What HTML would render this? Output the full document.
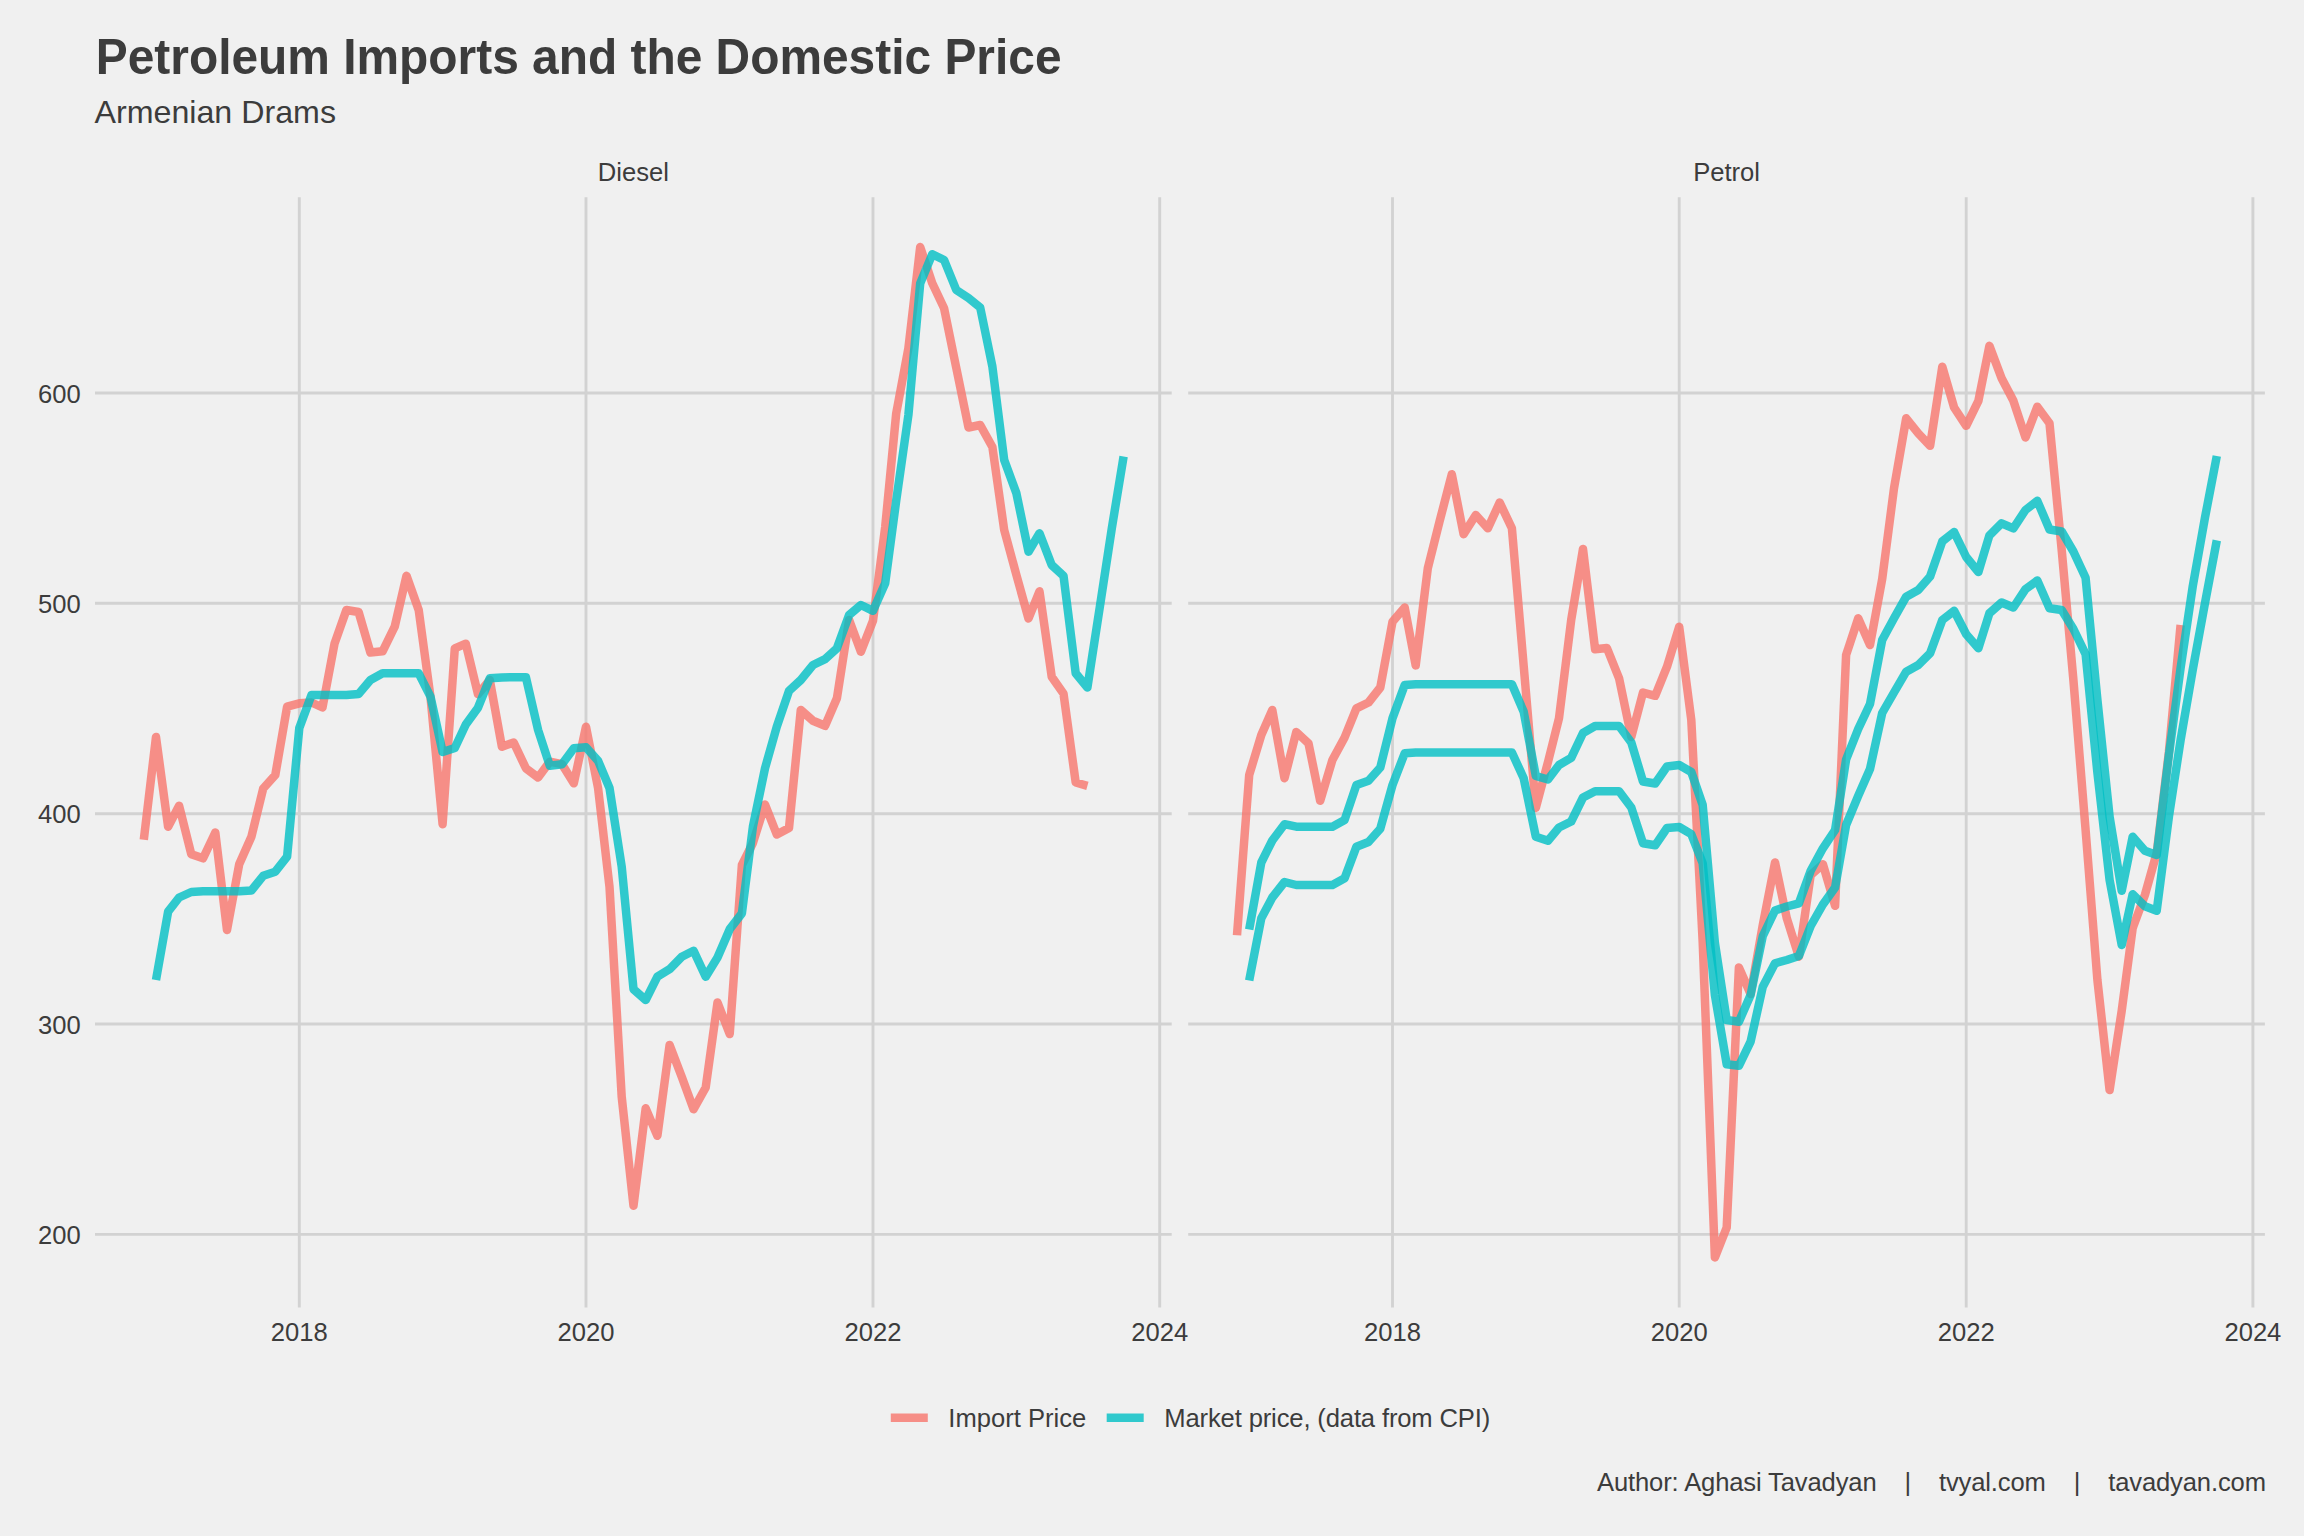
<!DOCTYPE html>
<html><head><meta charset="utf-8"><title>Petroleum Imports and the Domestic Price</title>
<style>html,body{margin:0;padding:0;background:#F0F0F0;}body{width:2304px;height:1536px;overflow:hidden;font-family:"Liberation Sans",sans-serif;}svg{display:block;}text{font-family:"Liberation Sans",sans-serif;fill:#3C3C3C;}</style></head><body>
<svg width="2304" height="1536" viewBox="0 0 2304 1536">
<rect x="0" y="0" width="2304" height="1536" fill="#F0F0F0"/>
<text x="95.8" y="73.8" font-size="48" font-weight="bold" transform="translate(95 73.8) scale(0.9978 1.06) translate(-95 -73.8)">Petroleum Imports and the Domestic Price</text>
<text x="94.5" y="123.2" font-size="32.2">Armenian Drams</text>
<text x="633.4" y="181" font-size="25.6" text-anchor="middle">Diesel</text>
<text x="1726.6" y="181" font-size="25.6" text-anchor="middle">Petrol</text>
<g stroke="#D2D2D2" stroke-width="2.9" fill="none">
<line x1="95.0" y1="393.0" x2="1171.7" y2="393.0"/>
<line x1="95.0" y1="603.3" x2="1171.7" y2="603.3"/>
<line x1="95.0" y1="813.7" x2="1171.7" y2="813.7"/>
<line x1="95.0" y1="1024.0" x2="1171.7" y2="1024.0"/>
<line x1="95.0" y1="1234.4" x2="1171.7" y2="1234.4"/>
<line x1="299.3" y1="197.3" x2="299.3" y2="1307.5"/>
<line x1="586.0" y1="197.3" x2="586.0" y2="1307.5"/>
<line x1="873.0" y1="197.3" x2="873.0" y2="1307.5"/>
<line x1="1159.7" y1="197.3" x2="1159.7" y2="1307.5"/>
<line x1="1188.2" y1="393.0" x2="2264.9" y2="393.0"/>
<line x1="1188.2" y1="603.3" x2="2264.9" y2="603.3"/>
<line x1="1188.2" y1="813.7" x2="2264.9" y2="813.7"/>
<line x1="1188.2" y1="1024.0" x2="2264.9" y2="1024.0"/>
<line x1="1188.2" y1="1234.4" x2="2264.9" y2="1234.4"/>
<line x1="1392.5" y1="197.3" x2="1392.5" y2="1307.5"/>
<line x1="1679.2" y1="197.3" x2="1679.2" y2="1307.5"/>
<line x1="1966.2" y1="197.3" x2="1966.2" y2="1307.5"/>
<line x1="2252.9" y1="197.3" x2="2252.9" y2="1307.5"/>
</g>
<text x="80.8" y="402.6" font-size="25.6" text-anchor="end">600</text>
<text x="80.8" y="612.9" font-size="25.6" text-anchor="end">500</text>
<text x="80.8" y="823.3" font-size="25.6" text-anchor="end">400</text>
<text x="80.8" y="1033.6" font-size="25.6" text-anchor="end">300</text>
<text x="80.8" y="1244.0" font-size="25.6" text-anchor="end">200</text>
<text x="299.3" y="1341.3" font-size="25.6" text-anchor="middle">2018</text>
<text x="586.0" y="1341.3" font-size="25.6" text-anchor="middle">2020</text>
<text x="873.0" y="1341.3" font-size="25.6" text-anchor="middle">2022</text>
<text x="1159.7" y="1341.3" font-size="25.6" text-anchor="middle">2024</text>
<text x="1392.5" y="1341.3" font-size="25.6" text-anchor="middle">2018</text>
<text x="1679.2" y="1341.3" font-size="25.6" text-anchor="middle">2020</text>
<text x="1966.2" y="1341.3" font-size="25.6" text-anchor="middle">2022</text>
<text x="2252.9" y="1341.3" font-size="25.6" text-anchor="middle">2024</text>
<polyline points="143.8,839.7 156.0,737.0 168.1,826.7 179.1,805.8 191.3,854.2 203.1,858.3 215.3,832.5 227.0,930.0 239.2,864.2 251.4,836.7 263.2,788.5 275.3,775.0 287.1,706.7 299.3,703.3 311.5,702.5 322.5,707.5 334.6,643.3 346.4,610.0 358.6,612.0 370.4,652.5 382.6,651.3 394.7,626.7 406.5,575.8 418.7,610.0 430.5,697.0 442.6,824.2 454.8,648.3 465.8,643.7 478.0,694.2 489.8,680.0 501.9,746.7 513.7,742.5 525.9,768.3 538.1,777.5 549.8,761.7 562.0,764.2 573.8,783.3 586.0,726.7 598.1,788.3 609.5,886.7 621.7,1096.7 633.5,1205.8 645.7,1108.3 657.4,1135.8 669.6,1045.0 681.8,1077.0 693.6,1109.2 705.7,1087.5 717.5,1002.5 729.7,1034.0 741.9,865.0 752.9,843.0 765.0,804.5 776.8,834.5 789.0,828.0 800.8,710.0 813.0,720.8 825.1,725.8 836.9,698.3 849.1,620.0 860.9,651.7 873.0,620.8 885.2,527.0 896.2,413.5 908.4,348.3 920.2,247.0 932.3,283.3 944.1,308.3 956.3,368.0 968.5,427.5 980.2,425.0 992.4,447.0 1004.2,530.0 1016.4,575.0 1028.5,618.5 1039.5,591.3 1051.7,676.7 1063.5,693.6 1075.7,782.5 1087.4,785.8" fill="none" stroke="#F8766D" stroke-opacity="0.8" stroke-width="8.5" stroke-linejoin="round" stroke-linecap="butt"/>
<polyline points="156.0,980.0 168.1,911.7 179.1,897.5 191.3,892.0 203.1,891.3 215.3,891.3 227.0,891.3 239.2,891.3 251.4,890.5 263.2,875.8 275.3,871.7 287.1,856.7 299.3,728.0 311.5,695.0 322.5,695.0 334.6,695.0 346.4,695.0 358.6,694.0 370.4,680.0 382.6,673.3 394.7,673.3 406.5,673.3 418.7,673.3 430.5,696.7 442.6,752.0 454.8,748.0 465.8,724.5 478.0,707.7 489.8,678.3 501.9,677.5 513.7,677.2 525.9,677.2 538.1,730.0 549.8,765.8 562.0,764.2 573.8,748.3 586.0,747.2 598.1,760.8 609.5,788.0 621.7,866.7 633.5,989.2 645.7,1000.0 657.4,976.7 669.6,969.2 681.8,956.7 693.6,950.8 705.7,976.7 717.5,957.5 729.7,929.2 741.9,913.3 752.9,826.7 765.0,768.3 776.8,726.7 789.0,690.8 800.8,680.0 813.0,665.0 825.1,659.2 836.9,648.3 849.1,615.0 860.9,605.0 873.0,610.8 885.2,583.3 896.2,500.8 908.4,415.0 920.2,283.3 932.3,254.2 944.1,260.0 956.3,290.0 968.5,298.0 980.2,307.5 992.4,366.7 1004.2,460.0 1016.4,493.3 1028.5,551.7 1039.5,533.3 1051.7,565.0 1063.5,575.8 1075.7,673.3 1087.4,687.5 1099.6,608.3 1111.8,528.3 1123.6,456.5" fill="none" stroke="#00BFC4" stroke-opacity="0.8" stroke-width="8.5" stroke-linejoin="round" stroke-linecap="butt"/>
<polyline points="1237.0,935.3 1249.2,775.0 1261.3,735.0 1272.3,710.0 1284.5,778.3 1296.3,732.0 1308.5,743.3 1320.2,800.8 1332.4,760.0 1344.6,737.5 1356.4,708.3 1368.5,702.5 1380.3,687.5 1392.5,621.7 1404.7,607.5 1415.7,665.4 1427.8,568.3 1439.6,521.3 1451.8,474.2 1463.6,534.2 1475.8,515.0 1487.9,528.3 1499.7,502.5 1511.9,528.3 1523.7,666.0 1535.8,808.0 1548.0,762.0 1559.0,718.3 1571.2,620.0 1583.0,549.0 1595.1,649.2 1606.9,648.0 1619.1,678.3 1631.3,737.0 1643.0,692.5 1655.2,695.8 1667.0,666.7 1679.2,626.7 1691.3,720.0 1702.7,942.0 1714.9,1257.5 1726.7,1227.5 1738.9,967.5 1750.6,994.0 1762.8,925.0 1775.0,862.5 1786.8,918.3 1798.9,956.7 1810.7,875.0 1822.9,864.2 1835.1,905.8 1846.1,655.0 1858.2,618.3 1870.0,645.0 1882.2,579.0 1894.0,488.3 1906.2,418.3 1918.3,433.3 1930.1,445.8 1942.3,366.7 1954.1,407.5 1966.2,425.8 1978.4,400.8 1989.4,345.8 2001.6,378.3 2013.4,400.8 2025.5,437.5 2037.3,406.7 2049.5,423.3 2061.7,550.0 2073.4,680.0 2085.6,830.0 2097.4,980.0 2109.6,1090.0 2121.7,1010.8 2132.7,928.0 2144.9,895.0 2156.7,853.0 2168.9,752.0 2180.6,625.0" fill="none" stroke="#F8766D" stroke-opacity="0.8" stroke-width="8.5" stroke-linejoin="round" stroke-linecap="butt"/>
<polyline points="1249.2,929.6 1261.3,862.5 1272.3,840.5 1284.5,824.2 1296.3,826.7 1308.5,826.7 1320.2,826.7 1332.4,826.7 1344.6,820.0 1356.4,785.0 1368.5,780.8 1380.3,767.5 1392.5,718.3 1404.7,685.0 1415.7,684.3 1427.8,684.3 1439.6,684.3 1451.8,684.3 1463.6,684.3 1475.8,684.3 1487.9,684.3 1499.7,684.3 1511.9,684.3 1523.7,711.7 1535.8,776.0 1548.0,779.5 1559.0,765.0 1571.2,757.8 1583.0,733.0 1595.1,726.0 1606.9,726.0 1619.1,726.0 1631.3,742.5 1643.0,781.5 1655.2,783.5 1667.0,766.5 1679.2,765.0 1691.3,772.0 1702.7,805.0 1714.9,943.0 1726.7,1020.0 1738.9,1021.7 1750.6,995.0 1762.8,936.0 1775.0,910.5 1786.8,906.5 1798.9,903.3 1810.7,870.8 1822.9,848.3 1835.1,830.0 1846.1,759.5 1858.2,729.0 1870.0,704.0 1882.2,640.0 1894.0,618.3 1906.2,596.7 1918.3,590.0 1930.1,576.5 1942.3,541.3 1954.1,532.0 1966.2,557.0 1978.4,572.0 1989.4,535.4 2001.6,523.3 2013.4,528.3 2025.5,510.0 2037.3,500.8 2049.5,529.5 2061.7,531.5 2073.4,551.5 2085.6,577.8 2097.4,700.0 2109.6,816.7 2121.7,890.8 2132.7,836.7 2144.9,850.8 2156.7,855.0 2168.9,755.0 2180.6,668.0 2192.8,586.0 2205.0,517.5 2216.8,456.0" fill="none" stroke="#00BFC4" stroke-opacity="0.8" stroke-width="8.5" stroke-linejoin="round" stroke-linecap="butt"/>
<polyline points="1249.2,980.5 1261.3,918.3 1272.3,897.5 1284.5,882.0 1296.3,885.0 1308.5,885.0 1320.2,885.0 1332.4,885.0 1344.6,878.3 1356.4,846.7 1368.5,842.0 1380.3,828.7 1392.5,785.0 1404.7,753.3 1415.7,752.5 1427.8,752.5 1439.6,752.5 1451.8,752.5 1463.6,752.5 1475.8,752.5 1487.9,752.5 1499.7,752.5 1511.9,752.5 1523.7,778.3 1535.8,836.7 1548.0,840.8 1559.0,827.5 1571.2,821.5 1583.0,797.5 1595.1,791.3 1606.9,791.3 1619.1,791.3 1631.3,807.5 1643.0,843.3 1655.2,845.3 1667.0,828.0 1679.2,827.0 1691.3,834.2 1702.7,863.3 1714.9,995.0 1726.7,1064.2 1738.9,1065.8 1750.6,1041.7 1762.8,986.7 1775.0,963.3 1786.8,960.0 1798.9,956.0 1810.7,926.0 1822.9,904.5 1835.1,887.5 1846.1,825.0 1858.2,795.8 1870.0,769.0 1882.2,713.0 1894.0,692.5 1906.2,671.7 1918.3,665.0 1930.1,653.3 1942.3,620.0 1954.1,610.8 1966.2,634.2 1978.4,648.3 1989.4,613.3 2001.6,602.5 2013.4,607.5 2025.5,589.2 2037.3,580.5 2049.5,608.2 2061.7,610.0 2073.4,629.0 2085.6,654.2 2097.4,772.7 2109.6,880.0 2121.7,945.0 2132.7,894.2 2144.9,906.3 2156.7,910.8 2168.9,816.7 2180.6,740.0 2192.8,669.6 2205.0,603.0 2216.8,540.4" fill="none" stroke="#00BFC4" stroke-opacity="0.8" stroke-width="8.5" stroke-linejoin="round" stroke-linecap="butt"/>
<line x1="890.8" y1="1417.7" x2="927.8" y2="1417.7" stroke="#F8766D" stroke-opacity="0.8" stroke-width="8.5"/>
<text x="948.3" y="1427" font-size="25.6">Import Price</text>
<line x1="1106.7" y1="1417.7" x2="1143.7" y2="1417.7" stroke="#00BFC4" stroke-opacity="0.8" stroke-width="8.5"/>
<text x="1164.3" y="1427" font-size="25.6" textLength="326" lengthAdjust="spacing">Market price, (data from CPI)</text>
<text x="2266" y="1491.4" font-size="25.6" text-anchor="end" textLength="669" lengthAdjust="spacing" xml:space="preserve">Author: Aghasi Tavadyan    |    tvyal.com    |    tavadyan.com</text>
</svg></body></html>
